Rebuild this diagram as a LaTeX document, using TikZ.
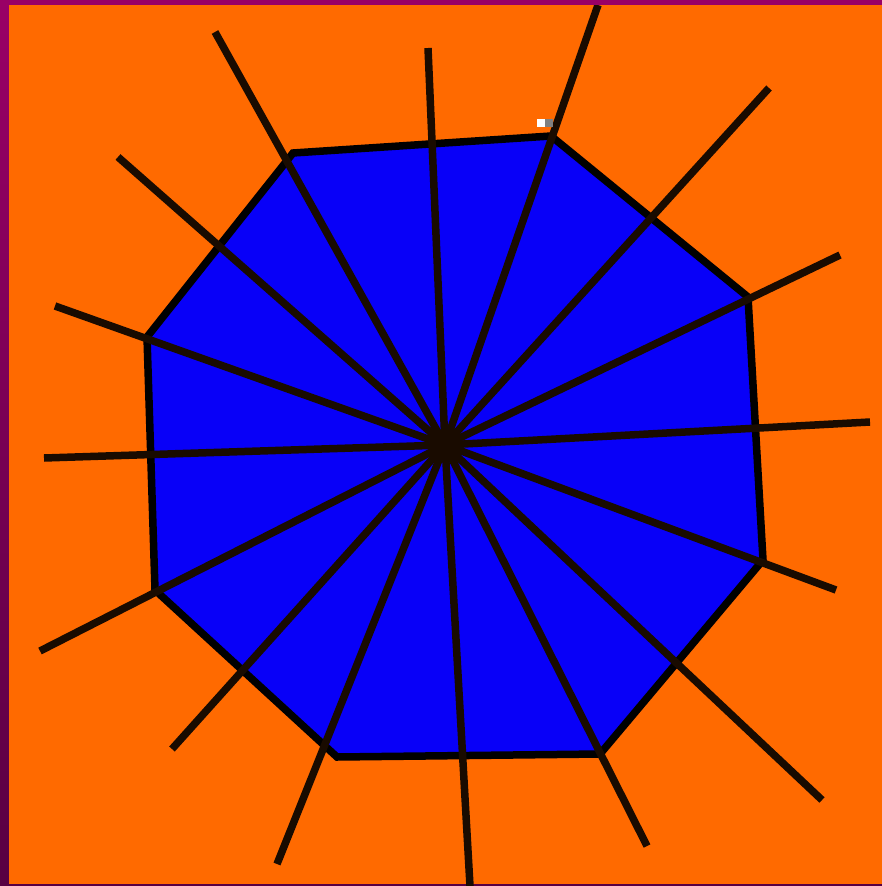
\documentclass[tikz,border=0pt]{standalone}
\definecolor{bgorange}{RGB}{255,106,0}
\definecolor{polyblue}{RGB}{8,0,248}
\definecolor{frametop}{RGB}{153,0,102}
\definecolor{framebot}{RGB}{88,0,66}
\tikzset{
  spoke/.style={line width=7.5pt, draw=black!90!bgorange, line cap=butt},
  octo/.style={line width=7.5pt, draw=black, fill=polyblue, line join=miter},
}
\begin{document}
\begin{tikzpicture}[x=1pt,y=-1pt]
\useasboundingbox (0,0) rectangle (882,886);
\shade[top color=frametop, bottom color=framebot] (0,0) rectangle (882,886);
\fill[bgorange] (9,5) rectangle (882,884);
% centre and polygon vertices
\coordinate (c) at (445,445);
\coordinate (A) at (293,153);
\coordinate (B) at (551,136);
\coordinate (C) at (748,297);
\coordinate (D) at (763,560);
\coordinate (E) at (600,754);
\coordinate (F) at (337,757);
\coordinate (G) at (155,590);
\coordinate (H) at (147,337);
\draw[octo] (A) -- (B) -- (C) -- (D) -- (E) -- (F) -- (G) -- (H) -- cycle;
% spoke ends
\coordinate (s1) at (428,48);
\coordinate (s2) at (598,5);
\coordinate (s3) at (769,88);
\coordinate (s4) at (840,255);
\coordinate (s5) at (870,422);
\coordinate (s6) at (836,590);
\coordinate (s7) at (822,800);
\coordinate (s8) at (647,846);
\coordinate (s9) at (470,886);
\coordinate (s10) at (277,864);
\coordinate (s11) at (172,749);
\coordinate (s12) at (40,651);
\coordinate (s13) at (44,458);
\coordinate (s14) at (55,306);
\coordinate (s15) at (118,157);
\coordinate (s16) at (215,32);
\foreach \i in {1,...,16} { \draw[spoke] (c) -- (s\i); }
\fill[frametop] (0,0) rectangle (882,5);
\fill[white] (537,119) rectangle (545,127);
\fill[gray] (545,119) rectangle (553,127);
\end{tikzpicture}
\end{document}
